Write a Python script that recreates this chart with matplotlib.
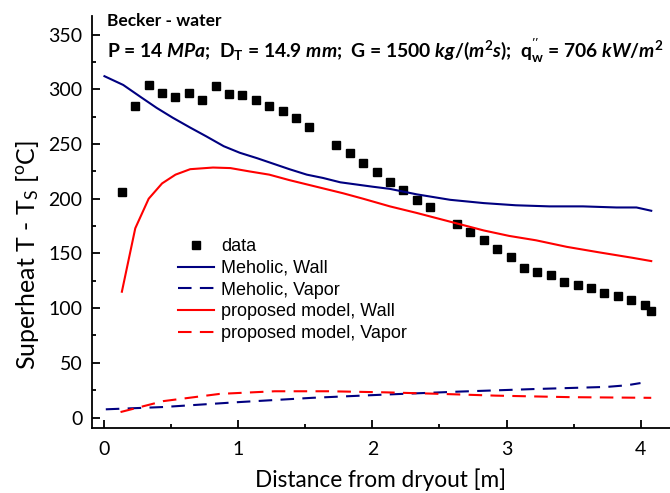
import matplotlib
matplotlib.use("Agg")
import matplotlib.pyplot as plt
from matplotlib.ticker import MultipleLocator

plt.rcParams["font.family"] = ["Lato", "DejaVu Sans"]
plt.rcParams["mathtext.fontset"] = "custom"
plt.rcParams["mathtext.rm"] = "Lato:bold"
plt.rcParams["mathtext.it"] = "Lato:italic:bold"

# measured data (Becker)
data_x = [0.13, 0.23, 0.33, 0.43, 0.53, 0.63, 0.73, 0.83, 0.93, 1.03, 1.13, 1.23,
          1.33, 1.43, 1.53, 1.73, 1.83, 1.93, 2.03, 2.13, 2.23, 2.33, 2.43, 2.63,
          2.73, 2.83, 2.93, 3.03, 3.13, 3.23, 3.33, 3.43, 3.53, 3.63, 3.73, 3.83,
          3.93, 4.03, 4.08]
data_y = [206, 285, 304, 297, 293, 297, 290, 303, 296, 295, 290, 285,
          280, 274, 266, 249, 242, 233, 224, 215, 208, 199, 192, 177,
          170, 162, 154, 147, 137, 133, 130, 124, 121, 118, 114, 111,
          107, 103, 97]

# Meholic model
meh_wall_x = [0.0, 0.14, 0.27, 0.39, 0.51, 0.64, 0.76, 0.89, 1.01, 1.14, 1.26, 1.38,
              1.51, 1.63, 1.76, 1.88, 2.0, 2.13, 2.33, 2.58, 2.83, 3.07, 3.32, 3.57,
              3.82, 3.97, 4.08]
meh_wall_y = [312, 304, 293, 283, 274, 265, 257, 248, 242, 237, 232, 227,
              222, 219, 215, 213, 211, 209, 204, 199, 196, 194, 193, 193,
              192, 192, 189]
meh_vap_x = [0.01, 0.44, 0.99, 1.55, 2.1, 2.65, 3.2, 3.75, 3.9, 4.0]
meh_vap_y = [7.5, 9.6, 14, 18, 21, 23.7, 26, 28, 29.5, 31.5]

# proposed model
prop_wall_x = [0.13, 0.23, 0.33, 0.43, 0.53, 0.64, 0.81, 0.94, 1.08, 1.23, 1.38, 1.58,
               1.78, 1.93, 2.13, 2.33, 2.58, 2.83, 3.02, 3.22, 3.45, 3.69, 3.94, 4.08]
prop_wall_y = [115, 173, 200, 214, 222, 227, 228.5, 228, 225, 222, 217, 211,
               205, 200, 193, 187, 179, 171, 166, 162, 156, 151, 146, 143]
prop_vap_x = [0.12, 0.44, 0.86, 1.27, 1.68, 2.1, 2.51, 2.92, 3.48, 4.08]
prop_vap_y = [5, 15, 21.6, 24, 24, 23, 21.6, 20, 18.6, 18]

navy = "#000080"
red = "#ff0000"

fig = plt.figure(figsize=(6.7, 4.93), dpi=100)
ax = fig.add_axes([0.1373, 0.1318, 0.8627, 0.8357])

ax.plot(data_x, data_y, "s", color="black", markersize=5.5, label="data")
ax.plot(meh_wall_x, meh_wall_y, "-", color=navy, lw=1.5, label="Meholic, Wall")
ax.plot(meh_vap_x, meh_vap_y, "--", color=navy, lw=1.5, dashes=(6.5, 4), label="Meholic, Vapor")
ax.plot(prop_wall_x, prop_wall_y, "-", color=red, lw=1.5, label="proposed model, Wall")
ax.plot(prop_vap_x, prop_vap_y, "--", color=red, lw=1.5, dashes=(6.5, 4), label="proposed model, Vapor")

ax.set_xlim(-0.093, 4.22)
ax.set_ylim(-9.6, 367)
ax.xaxis.set_major_locator(MultipleLocator(1))
ax.xaxis.set_minor_locator(MultipleLocator(0.5))
ax.yaxis.set_major_locator(MultipleLocator(50))
ax.yaxis.set_minor_locator(MultipleLocator(25))
ax.tick_params(which="both", direction="in", width=1.3, labelsize=14)
ax.tick_params(which="major", length=6)
ax.tick_params(which="minor", length=3)
ax.tick_params(axis="x", pad=9)
ax.tick_params(axis="y", pad=7)
for side in ("top", "right"):
    ax.spines[side].set_visible(False)
for side in ("left", "bottom"):
    ax.spines[side].set_linewidth(1.3)

ax.set_xlabel("Distance from dryout [m]", fontsize=16.3, labelpad=8)
ax.set_ylabel(r"Superheat T - T$\mathregular{_S}$ [$\mathregular{^o}$C]", fontsize=18)
ax.yaxis.set_label_coords(-0.088, 0.42)

ax.text(0.02, 362, "Becker - water", fontsize=12.5, fontweight="bold", va="center")
ax.text(0.02, 335,
        r"P = 14 $\mathit{MPa}$;  D$\mathregular{_T}$ = 14.9 $\mathit{mm}$;  "
        r"G = 1500 $\mathit{kg/(m^2s)}$;  q$\mathregular{^{''}_w}$ = 706 $\mathit{kW/m^2}$",
        fontsize=13.9, fontweight="bold", va="center")

ax.legend(loc="upper left", bbox_to_anchor=(0.12, 0.5), frameon=False, numpoints=1,
          handlelength=2.0, handletextpad=0.4, labelspacing=0.26,
          prop={"family": "Liberation Sans", "size": 13})

fig.savefig("out.png", dpi=100)
